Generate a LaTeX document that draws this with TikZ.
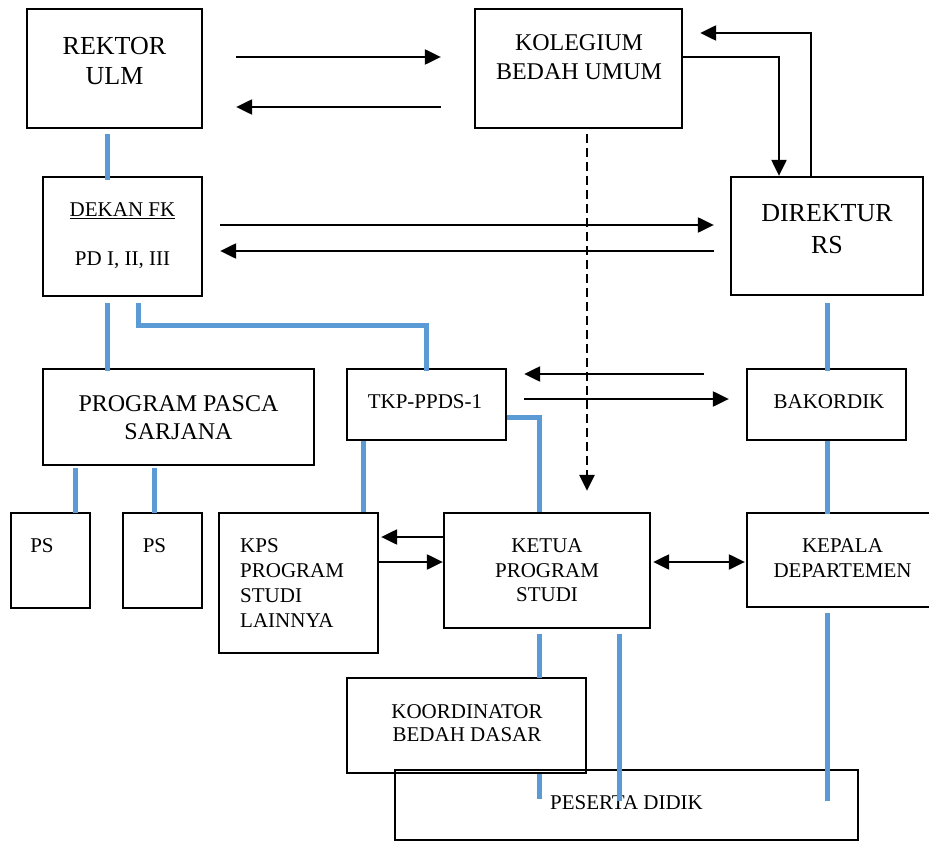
\documentclass[tikz,border=0pt]{standalone}
\usepackage{fontspec}
\setmainfont{Liberation Serif}
\usetikzlibrary{arrows.meta}
\definecolor{lblue}{RGB}{91,155,213}
\begin{document}
\begin{tikzpicture}[x=1pt,y=-1pt,
  box/.style={draw=black, line width=2.3pt, fill=white, inner sep=0pt},
  txt/.style={inner sep=0pt, align=center, font=\fontsize{21}{24.5}\selectfont},
  bline/.style={draw=lblue, line width=5pt},
  arr/.style={draw=black, line width=2.2pt, -{Triangle[length=16pt,width=15pt]}},
  darr/.style={draw=black, line width=2.2pt, {Triangle[length=16pt,width=15pt]}-{Triangle[length=16pt,width=15pt]}},
  dasharr/.style={arr, line width=2.5pt, dash pattern=on 9pt off 5pt}
]
\useasboundingbox (0,0) rectangle (929,843);
\clip (0,0) rectangle (929,843);

% boxes
\node[box, minimum width=175, minimum height=119] (rektor) at (114.5,68.5) {};
\node[box, minimum width=207, minimum height=119] (kolegium) at (578.5,68.5) {};
\node[box, minimum width=159, minimum height=119] (dekan) at (122.5,236.5) {};
\node[box, minimum width=192, minimum height=118] (direktur) at (827,236) {};
\node[box, minimum width=271, minimum height=96] (pasca) at (178.5,417) {};
\node[box, minimum width=159, minimum height=71] (tkp) at (426.5,404.5) {};
\node[box, minimum width=159, minimum height=71] (bakordik) at (826.5,404.5) {};
\node[box, minimum width=79, minimum height=95] (ps1) at (50.5,560.5) {};
\node[box, minimum width=79, minimum height=95] (ps2) at (162.5,560.5) {};
\node[box, minimum width=159, minimum height=140] (kps) at (298.5,583) {};
\node[box, minimum width=206, minimum height=115] (ketua) at (547,570.5) {};
\node[box, minimum width=188, minimum height=94] (kepala) at (841,560) {};
\node[box, minimum width=239, minimum height=95] (koord) at (466.5,725.5) {};
\node[box, fill=none, minimum width=463, minimum height=70] (peserta) at (626.5,805) {};

% texts
\node[txt, font=\fontsize{26}{30}\selectfont] (trektor) at (114.5,61) {REKTOR\\ULM};
\node[txt, font=\fontsize{24}{29}\selectfont] (tkolegium) at (579,57.5) {KOLEGIUM\\BEDAH UMUM};
\node[txt, font=\fontsize{21}{49}\selectfont] (tdekan) at (122.5,236) {\underline{DEKAN FK}\\PD I, II, III};
\node[txt, font=\fontsize{26}{32}\selectfont] (tdirektur) at (827,229) {DIREKTUR\\RS};
\node[txt, font=\fontsize{24}{28}\selectfont] (tpasca) at (178.5,418) {PROGRAM PASCA\\SARJANA};
\node[txt] (ttkp) at (425,402) {TKP-PPDS-1};
\node[txt] (tbakordik) at (829,402) {BAKORDIK};
\node[txt] (tps1) at (42,546) {PS};
\node[txt] (tps2) at (154.5,546) {PS};
\node[txt, align=left, anchor=west, font=\fontsize{21}{24.7}\selectfont] (tkps) at (240,583) {KPS\\PROGRAM\\STUDI\\LAINNYA};
\node[txt] (tketua) at (547,570.5) {KETUA\\PROGRAM\\STUDI};
\node[txt, font=\fontsize{21}{25}\selectfont] (tkepala) at (842.5,558.5) {KEPALA\\DEPARTEMEN};
\node[txt, font=\fontsize{21}{23}\selectfont] (tkoord) at (467,723.5) {KOORDINATOR\\BEDAH DASAR};
\node[txt] (tpeserta) at (626.5,803) {PESERTA DIDIK};

% blue connectors
\draw[bline] ([xshift=-7.5pt,yshift=-5pt]rektor.south) -- ([xshift=-15.5pt,yshift=-4pt]dekan.north);
\draw[bline] ([xshift=-15.5pt,yshift=-6pt]dekan.south) -- ([xshift=-71.5pt,yshift=-3pt]pasca.north);
\draw[bline] ([xshift=15.5pt,yshift=-6pt]dekan.south) -- ++(0,22) -| ([yshift=-3pt]tkp.north);
\draw[bline] ([xshift=-63.5pt]tkp.south) -- ([xshift=64.5pt]kps.north);
\draw[bline] ([yshift=-12.5pt]tkp.east) -| ([xshift=-8pt]ketua.north);
\draw[bline] ([xshift=-103.5pt,yshift=-2pt]pasca.south) -- ([xshift=24.5pt,yshift=-1pt]ps1.north);
\draw[bline] ([xshift=-24.5pt,yshift=-2pt]pasca.south) -- ([xshift=-8.5pt,yshift=-1pt]ps2.north);
\draw[bline] ([yshift=-7pt]direktur.south) -- ([xshift=0.5pt,yshift=-3pt]bakordik.north);
\draw[bline] ([xshift=0.5pt]bakordik.south) -- ([xshift=-14pt,yshift=-2pt]kepala.north);
\draw[bline] ([xshift=-8pt,yshift=-5pt]ketua.south) -- ([xshift=72.5pt,yshift=-1pt]koord.north);
\draw[bline] ([xshift=72.5pt]koord.south) -- ([xshift=-87.5pt,yshift=-30pt]peserta.north);
\draw[bline] ([xshift=72pt,yshift=-5pt]ketua.south) -- ([xshift=-7.5pt,yshift=-32pt]peserta.north);
\draw[bline] ([xshift=-14pt,yshift=-5pt]kepala.south) -- ([xshift=200.5pt,yshift=-32pt]peserta.north);

% black arrows
\draw[arr] ([xshift=33pt,yshift=11.5pt]rektor.east) -- ([xshift=-33pt,yshift=11.5pt]kolegium.west);
\draw[arr] ([xshift=-33pt,yshift=-38.5pt]kolegium.west) -- ([xshift=33pt,yshift=-38.5pt]rektor.east);
\draw[arr] ([yshift=11.5pt]kolegium.east) -| ([xshift=-48pt]direktur.north);
\draw[arr] ([xshift=-16pt]direktur.north) |- ([xshift=17pt,yshift=35.5pt]kolegium.east);
\draw[arr] ([xshift=17pt,yshift=11.5pt]dekan.east) -- ([xshift=-16pt,yshift=11pt]direktur.west);
\draw[arr] ([xshift=-16pt,yshift=-15pt]direktur.west) -- ([xshift=17pt,yshift=-14.5pt]dekan.east);
\draw[arr] ([xshift=-42pt,yshift=30.5pt]bakordik.west) -- ([xshift=17pt,yshift=30.5pt]tkp.east);
\draw[arr] ([xshift=17pt,yshift=5.5pt]tkp.east) -- ([xshift=-17pt,yshift=5.5pt]bakordik.west);
\draw[dasharr] ([xshift=8.5pt,yshift=-5pt]kolegium.south) -- ([xshift=40pt,yshift=21pt]ketua.north);
\draw[arr] ([yshift=33.5pt]ketua.west) -- ([xshift=2pt,yshift=46pt]kps.east);
\draw[arr] ([yshift=21pt]kps.east) -- ([yshift=8.5pt]ketua.west);
\draw[darr] ([xshift=2pt,yshift=8.5pt]ketua.east) -- ([xshift=-1pt,yshift=-2pt]kepala.west);
\end{tikzpicture}
\end{document}
